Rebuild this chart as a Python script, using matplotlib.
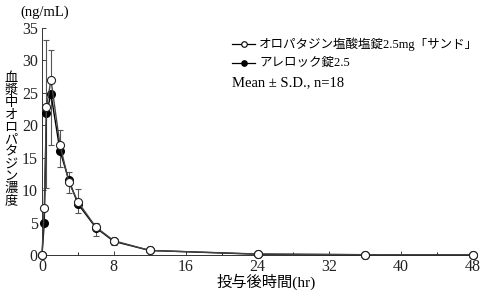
import numpy as np
import matplotlib
matplotlib.use("Agg")
import matplotlib.pyplot as plt
from matplotlib.ticker import MultipleLocator

plt.rcParams['font.family'] = ['Liberation Serif', 'Noto Sans CJK JP']

# time after dosing (hr)
hours = [0, 0.25, 0.5, 1, 2, 3, 4, 6, 8, 12, 24, 36, 48]
# オロパタジン塩酸塩錠2.5mg「サンド」 (open circles), mean and upper SD
sandoz_mean = [0, 7.3, 22.8, 27.0, 17.0, 11.2, 8.2, 4.3, 2.2, 0.7, 0.15, 0.05, 0.03]
sandoz_sd = [0, 0, 10.3, 4.6, 2.3, 1.6, 1.9, 0.7, 0.3, 0.1, 0.05, 0, 0]
# アレロック錠2.5 (filled circles), mean and lower SD
allelock_mean = [0, 4.9, 21.9, 24.8, 16.1, 11.5, 7.9, 4.2, 2.1, 0.7, 0.12, 0.04, 0.02]
allelock_sd = [0, 0, 11.6, 7.8, 2.5, 2.0, 1.4, 1.2, 0.6, 0.1, 0.05, 0, 0]

fig = plt.figure(figsize=(4.84, 2.94), dpi=100)
ax = fig.add_axes([42 / 484, 1 - 255 / 294, 431 / 484, 227 / 294])

z = np.zeros(len(hours))
ax.errorbar(hours, allelock_mean, yerr=[allelock_sd, z], fmt='none',
            ecolor='#555555', elinewidth=0.8, capsize=2, capthick=0.8, zorder=2)
ax.errorbar(hours, sandoz_mean, yerr=[z, sandoz_sd], fmt='none',
            ecolor='#555555', elinewidth=0.8, capsize=2, capthick=0.8, zorder=2)
ax.plot(hours, allelock_mean, '-o', color='black', lw=1.0, ms=5.5,
        mfc='black', mec='black', zorder=3)
ax.plot(hours, sandoz_mean, '-o', color='#444444', lw=1.0, ms=5.8,
        mfc='white', mec='#222222', mew=0.8, zorder=4)

ax.set_xlim(0, 48)
ax.set_ylim(0, 35)
ax.xaxis.set_major_locator(MultipleLocator(8))
ax.xaxis.set_minor_locator(MultipleLocator(4))
ax.yaxis.set_major_locator(MultipleLocator(5))
ax.tick_params(direction='in', length=3, width=0.6, labelsize=11.5, colors='#222222', pad=3)
ax.tick_params(which='minor', direction='in', length=2, width=0.6)
ax.spines['top'].set_visible(False)
ax.spines['right'].set_visible(False)
for s in ['left', 'bottom']:
    ax.spines[s].set_linewidth(0.7)
    ax.spines[s].set_color('#333333')
for art in ax.get_children():
    art.set_clip_on(False)

fig.text(20 / 484, 1 - 12 / 294, '(ng/mL)', fontsize=10.5, va='center', ha='left')
fig.text(11 / 484, 1 - 140 / 294, '\n'.join('血漿中オロパタジン濃度'), fontsize=9.5,
         ha='center', va='center', linespacing=1.03)
fig.text(266 / 484, 1 - 282 / 294, '投与後時間(hr)', fontsize=11, ha='center', va='center')

# legend drawn by hand
lx0, lx1 = 232 / 484, 255 / 484
for y, mfc in [(44, 'white'), (63, 'black')]:
    yy = 1 - y / 294
    fig.add_artist(plt.Line2D([lx0, lx1], [yy, yy], color='black', lw=0.9))
    fig.add_artist(plt.Line2D([(lx0 + lx1) / 2], [yy], marker='o', ms=4,
                              mfc=mfc, mec='black', mew=0.8))
fig.text(259 / 484, 1 - 44 / 294, 'オロパタジン塩酸塩錠2.5mg「サンド」', fontsize=9, va='center')
fig.text(259 / 484, 1 - 63 / 294, 'アレロック錠2.5', fontsize=9, va='center')
fig.text(232 / 484, 1 - 83 / 294, 'Mean ± S.D., n=18', fontsize=10.5, va='center')

fig.savefig('out.png', dpi=100)
